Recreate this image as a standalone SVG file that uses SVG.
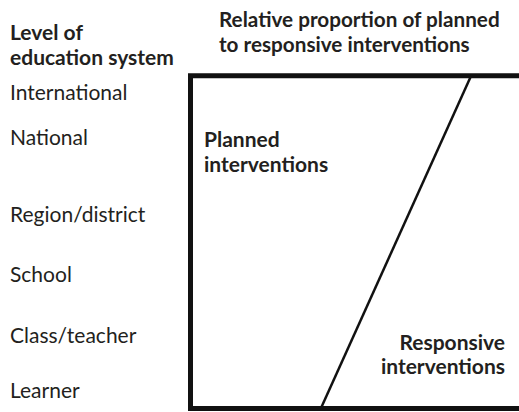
<svg xmlns="http://www.w3.org/2000/svg" width="519" height="412" viewBox="0 0 519 412">
<style>
text{font-family:Lato,"Open Sans",sans-serif;fill:#231f20;font-size:21px}
.b{font-weight:bold}
.t{font-size:20.7px}
.frame{fill:none;stroke:#111;stroke-width:5}
.diag{stroke:#111;stroke-width:2.5}
</style>
<rect width="519" height="412" fill="#fff"/>
<g id="header-left">
<text class="b" x="10" y="40">Level of</text>
<text class="b" x="10" y="65">education system</text>
</g>
<g id="header-right">
<text class="b t" x="219" y="27">Relative proportion of planned</text>
<text class="b t" x="219" y="52">to responsive interventions</text>
</g>
<g id="levels">
<text x="10" y="100">International</text>
<text x="10" y="145">National</text>
<text x="10" y="222">Region/district</text>
<text x="10" y="282">School</text>
<text x="10" y="343">Class/teacher</text>
<text x="10" y="398">Learner</text>
</g>
<g id="frame">
<path class="frame" d="M525 75.8H190.5V408.5H525"/>
</g>
<g id="connectors">
<line class="diag" x1="471" y1="76" x2="321.5" y2="407"/>
</g>
<g id="planned">
<text class="b" x="204" y="147">Planned</text>
<text class="b" x="204" y="172">interventions</text>
</g>
<g id="responsive">
<text class="b" x="505" y="350" text-anchor="end">Responsive</text>
<text class="b" x="505" y="374" text-anchor="end">interventions</text>
</g>
</svg>
